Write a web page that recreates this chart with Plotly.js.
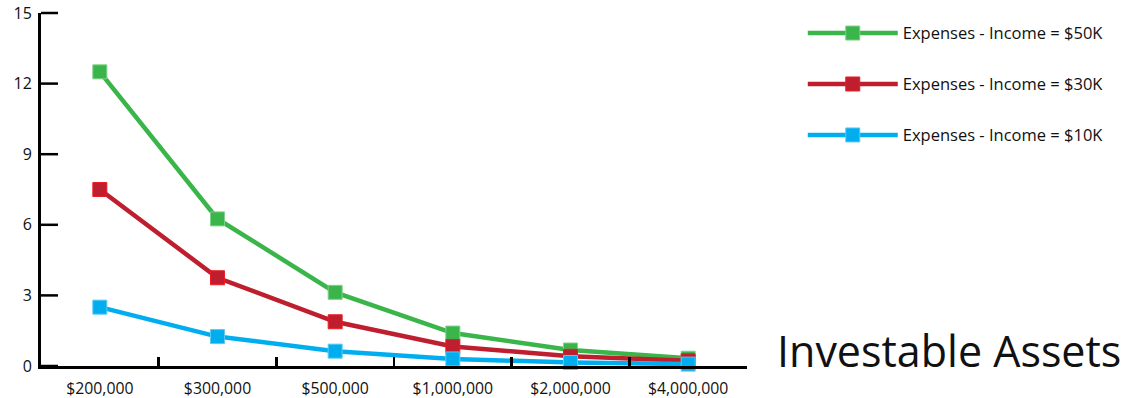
<!DOCTYPE html>
<html>
<head>
<meta charset="utf-8">
<script src="https://cdn.plot.ly/plotly-3.0.1.min.js"></script>
<style>html,body{margin:0;padding:0;background:#fff;}#chart{position:relative;width:1126px;height:398px;}#tickOverlay{position:absolute;left:0;top:0;pointer-events:none;}</style>
</head>
<body>
<div id="chart"></div>
<script>
const categories = ["$200,000", "$300,000", "$500,000", "$1,000,000", "$2,000,000", "$4,000,000"];
const seriesNames = ["Expenses - Income = $50K", "Expenses - Income = $30K", "Expenses - Income = $10K"];
const green50K = [12.5, 6.25, 3.13, 1.4, 0.68, 0.33];
const red30K = [7.5, 3.75, 1.88, 0.83, 0.41, 0.22];
const blue10K = [2.5, 1.25, 0.63, 0.3, 0.15, 0.08];
const yTicks = [0, 3, 6, 9, 12, 15];
const axisTitle = "Investable Assets";

const FONT = "Open Sans, sans-serif";
const styles = [
  {line: "#3AB54A", border: "#7fd08a"},
  {line: "#BE1E2D", border: "#ED1C24"},
  {line: "#00AEEF", border: "#5cc8f2"}
];
const values = [green50K, red30K, blue10K];

const data = values.map((v, i) => ({
  type: "scatter",
  mode: "lines+markers",
  x: categories,
  y: v,
  name: seriesNames[i],
  legendgroup: "g" + i,
  line: {color: styles[i].line, width: 4.5},
  marker: {symbol: "square", size: 14, color: styles[i].line, line: {color: styles[i].border, width: 1}},
  cliponaxis: false
}));

const layout = {
  width: 1126,
  height: 398,
  margin: {l: 41, r: 379, t: 13, b: 32},
  paper_bgcolor: "#fff",
  plot_bgcolor: "#fff",
  font: {family: FONT, color: "#111", size: 15},
  showlegend: true,
  legend: {
    x: 1.079, xanchor: "left", y: 0.992, yanchor: "top",
    font: {family: FONT, size: 16.5, color: "#111"},
    itemwidth: 90,
    tracegroupgap: 26.5,
    bgcolor: "rgba(0,0,0,0)"
  },
  xaxis: {
    type: "category",
    range: [-0.5, 5.5],
    showline: true, linecolor: "#000", linewidth: 3,
    ticks: "inside", tickson: "boundaries", ticklen: 9, tickwidth: 2.5, tickcolor: "#000",
    showgrid: false, zeroline: false,
    tickfont: {family: FONT, size: 15.8, color: "#111"},
    ticklabelstandoff: 6
  },
  yaxis: {
    range: [0, 15],
    tickvals: yTicks,
    showline: true, linecolor: "#000", linewidth: 3,
    ticks: "",
    showgrid: false, zeroline: false,
    tickfont: {family: FONT, size: 16, color: "#111"},
    ticklabelstandoff: 3
  },
  annotations: [{
    text: axisTitle,
    xref: "paper", yref: "paper",
    x: 1.04, xanchor: "left",
    y: 0.045, yanchor: "middle",
    showarrow: false,
    font: {family: FONT, size: 43, color: "#111"}
  }]
};

// Draw the inward-pointing y tick marks on top, positioned through Plotly's own y scale
function drawYTickMarks(gd) {
  const fl = gd._fullLayout;
  const xa = fl.xaxis, ya = fl.yaxis;
  const NS = "http://www.w3.org/2000/svg";
  const svg = document.createElementNS(NS, "svg");
  svg.setAttribute("id", "tickOverlay");
  svg.setAttribute("width", fl.width);
  svg.setAttribute("height", fl.height);
  yTicks.forEach(v => {
    const y = ya._offset + ya.l2p(v);
    const ln = document.createElementNS(NS, "line");
    ln.setAttribute("x1", xa._offset);
    ln.setAttribute("x2", xa._offset + 17);
    ln.setAttribute("y1", y);
    ln.setAttribute("y2", y);
    ln.setAttribute("stroke", "#000");
    ln.setAttribute("stroke-width", "2.5");
    svg.appendChild(ln);
  });
  gd.appendChild(svg);
}

const gd = document.getElementById("chart");
Plotly.newPlot(gd, data, layout, {displayModeBar: false, staticPlot: true}).then(drawYTickMarks);
</script>
</body>
</html>
